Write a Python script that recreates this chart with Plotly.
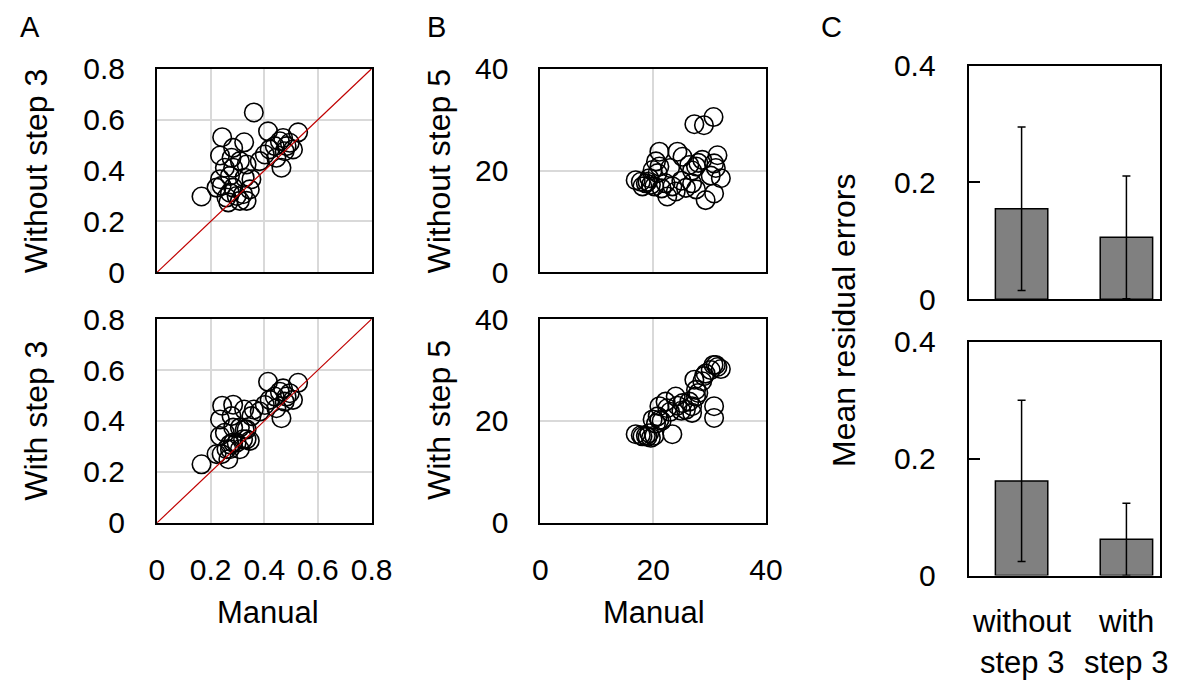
import plotly.graph_objects as go

W, H = 1181, 695

# ---------------- Panel A data (Manual vs automatic, step 3) ----------------
manual_A = [0.414, 0.458, 0.470, 0.495, 0.526, 0.507, 0.476, 0.464, 0.439, 0.420,
            0.445, 0.483, 0.402, 0.383,
            0.361, 0.166, 0.243, 0.325, 0.284, 0.235, 0.278, 0.309, 0.334, 0.253,
            0.235, 0.272, 0.241, 0.284, 0.346, 0.259, 0.297, 0.321, 0.266, 0.309,
            0.222, 0.327, 0.284, 0.352, 0.272, 0.334]
without_step3 = [0.554, 0.515, 0.528, 0.509, 0.550, 0.483, 0.476, 0.411, 0.496, 0.483,
                 0.450, 0.496, 0.463, 0.437,
                 0.628, 0.298, 0.531, 0.511, 0.489, 0.459, 0.450, 0.437, 0.424, 0.411,
                 0.366, 0.379, 0.340, 0.333, 0.326, 0.294, 0.300, 0.307, 0.275, 0.281,
                 0.333, 0.372, 0.411, 0.366, 0.313, 0.281]
with_step3 = [0.554, 0.515, 0.528, 0.509, 0.550, 0.483, 0.476, 0.411, 0.496, 0.483,
              0.450, 0.496, 0.463, 0.437,
              0.445, 0.230, 0.460, 0.445, 0.464, 0.406, 0.419, 0.374, 0.367, 0.354,
              0.341, 0.308, 0.270, 0.315, 0.322, 0.289, 0.315, 0.328, 0.250, 0.289,
              0.270, 0.367, 0.374, 0.419, 0.289, 0.328]
identity_line = [0, 0.8]

# ---------------- Panel B data (Manual vs automatic, step 5) ----------------
manual_B = [16.9, 17.8, 18.1, 18.7, 19.3, 19.6, 20.2, 19.9, 20.8, 21.1,
            21.1, 20.5, 22.2, 22.5, 23.4, 24.0, 24.3, 25.2, 25.8, 26.4,
            26.9, 26.9, 27.6, 27.6, 27.3, 28.7, 29.0, 29.3, 30.7, 30.8,
            30.8, 31.4, 32.0, 31.1, 30.2, 25.0, 23.0, 19.0, 21.5, 28.0]
without_step5 = [18.1, 17.8, 16.9, 17.5, 18.5, 17.2, 16.9, 20.1, 19.5, 20.8,
                 23.7, 21.8, 17.5, 14.9, 16.9, 15.9, 23.7, 22.7, 16.6, 21.1,
                 17.5, 20.0, 20.8, 16.3, 29.1, 22.1, 28.9, 14.2, 30.5, 21.4,
                 15.5, 23.0, 18.5, 20.5, 19.0, 18.0, 20.5, 17.8, 16.5, 21.5]
with_step5 = [17.4, 17.2, 17.0, 17.1, 17.6, 16.7, 17.1, 20.3, 20.9, 20.2,
              22.9, 19.5, 23.8, 22.5, 17.4, 24.8, 23.0, 23.5, 22.2, 23.8,
              22.9, 21.6, 24.8, 26.1, 28.1, 27.8, 28.8, 29.3, 31.0, 22.9,
              20.6, 30.6, 30.2, 31.0, 30.0, 22.0, 21.8, 16.9, 20.0, 25.5]

# ---------------- Panel C data (mean residual errors) ----------------
categories_C = ["without", "with"]
cat_line2 = ["step 3", "step 3"]
mean_err_top = [0.155, 0.106]
sd_err_top = [0.140, 0.105]
mean_err_bottom = [0.162, 0.062]
sd_err_bottom = [0.138, 0.062]

FONT = "Liberation Sans, Arial, sans-serif"
FS = 30      # tick labels
FT = 31      # horizontal titles
FR = 32      # rotated titles

# The photographed page shows the figure slightly shrunk and offset; map the
# wanted picture position (pixels) to figure position (pixels).
SX, OX = 0.977, 7.8
SY, OY = 0.957, 15.0


def lx(t):
    return min(max((t - OX) / SX, 0), W)


def ly(t):
    return min(max((t - OY) / SY, 0), H)


def px(t):
    return lx(t) / W


def py(t):
    return 1 - ly(t) / H


fig = go.Figure()

marker_style = dict(size=18.5, color="rgba(0,0,0,0)", symbol="circle",
                    line=dict(color="black", width=1.6))

# Panel A
fig.add_trace(go.Scatter(x=manual_A, y=without_step3, mode="markers", marker=marker_style,
                         xaxis="x", yaxis="y", showlegend=False, cliponaxis=False))
fig.add_trace(go.Scatter(x=identity_line, y=identity_line, mode="lines",
                         line=dict(color="#c00000", width=1.2), xaxis="x", yaxis="y", showlegend=False))
fig.add_trace(go.Scatter(x=manual_A, y=with_step3, mode="markers", marker=marker_style,
                         xaxis="x2", yaxis="y2", showlegend=False, cliponaxis=False))
fig.add_trace(go.Scatter(x=identity_line, y=identity_line, mode="lines",
                         line=dict(color="#c00000", width=1.2), xaxis="x2", yaxis="y2", showlegend=False))
# Panel B
fig.add_trace(go.Scatter(x=manual_B, y=without_step5, mode="markers", marker=marker_style,
                         xaxis="x3", yaxis="y3", showlegend=False))
fig.add_trace(go.Scatter(x=manual_B, y=with_step5, mode="markers", marker=marker_style,
                         xaxis="x4", yaxis="y4", showlegend=False))
# Panel C
bar_style = dict(color="#808080", line=dict(color="black", width=1.5))
fig.add_trace(go.Bar(x=[0, 1], y=mean_err_top, marker=bar_style, width=0.5,
                     error_y=dict(type="data", array=sd_err_top, color="black", thickness=1.5, width=4),
                     xaxis="x5", yaxis="y5", showlegend=False))
fig.add_trace(go.Bar(x=[0, 1], y=mean_err_bottom, marker=bar_style, width=0.5,
                     error_y=dict(type="data", array=sd_err_bottom, color="black", thickness=1.5, width=4),
                     xaxis="x6", yaxis="y6", showlegend=False))

frame = dict(showline=True, linecolor="black", linewidth=2, mirror=True, zeroline=False)
tickfont = dict(family=FONT, size=FS, color="black")

A_dom_x = [px(157), px(372)]
B_dom_x = [px(541), px(767)]
C_left, C_right = 970, 1180
C_dom_x = [px(C_left), px(C_right)]
# keep the bars centred where the reference has them (1023 and 1128 px)
c_unit = 105.0
c_right_seen = OX + SX * lx(C_right)
C_range = [-(1023 - C_left) / c_unit, (c_right_seen - 1023) / c_unit]
top_dom = [py(272), py(67)]
bot_dom = [py(524), py(319)]

grid_A = dict(range=[0, 0.8], tickvals=[0, 0.2, 0.4, 0.6, 0.8], ticktext=["0", "0.2", "0.4", "0.6", "0.8"],
              showgrid=True, gridcolor="#d9d9d9", gridwidth=2, ticks="", tickfont=tickfont, **frame)
grid_B = dict(range=[0, 40], tickvals=[0, 20, 40], showgrid=True, gridcolor="#d9d9d9", gridwidth=2,
              ticks="", tickfont=tickfont, **frame)
c_y = dict(range=[0, 0.4], tickvals=[0, 0.2, 0.4], ticktext=["0", "0.2", "0.4"], ticks="inside",
           ticklen=11, tickwidth=2, tickcolor="black", showgrid=False, tickfont=tickfont,
           ticklabelstandoff=25, **frame)
c_x = dict(range=C_range, showticklabels=False, ticks="", showgrid=False, **frame)

fig.update_layout(
    width=W, height=H, margin=dict(l=0, r=0, t=0, b=0),
    paper_bgcolor="white", plot_bgcolor="white",
    font=dict(family=FONT, size=FS, color="black"),
    xaxis=dict(domain=A_dom_x, anchor="y", showticklabels=False, **grid_A),
    yaxis=dict(domain=top_dom, anchor="x", ticklabelstandoff=24, **grid_A),
    xaxis2=dict(domain=A_dom_x, anchor="y2", ticklabelstandoff=19, **grid_A),
    yaxis2=dict(domain=bot_dom, anchor="x2", ticklabelstandoff=24, **grid_A),
    xaxis3=dict(domain=B_dom_x, anchor="y3", showticklabels=False, **grid_B),
    yaxis3=dict(domain=top_dom, anchor="x3", ticklabelstandoff=24, **grid_B),
    xaxis4=dict(domain=B_dom_x, anchor="y4", ticklabelstandoff=19, **grid_B),
    yaxis4=dict(domain=bot_dom, anchor="x4", ticklabelstandoff=24, **grid_B),
    xaxis5=dict(domain=C_dom_x, anchor="y5", **c_x),
    yaxis5=dict(domain=[py(299), py(64)], anchor="x5", **c_y),
    xaxis6=dict(domain=C_dom_x, anchor="y6", **c_x),
    yaxis6=dict(domain=[py(577), py(342)], anchor="x6", **c_y),
)

ann = []


def text(x, y, s, angle=0, size=FT):
    ann.append(dict(x=px(x), y=py(y), xref="paper", yref="paper", text=s, showarrow=False,
                    textangle=angle, xanchor="center", yanchor="middle",
                    font=dict(family=FONT, size=size, color="black")))


text(30, 25, "A", size=29)
text(437, 25, "B", size=29)
text(833, 25, "C", size=29)
text(36, 170, "Without step 3", angle=-90, size=FR)
text(36, 421, "With step 3", angle=-90, size=FR)
text(440, 170, "Without step 5", angle=-90, size=FR)
text(440, 421, "With step 5", angle=-90, size=FR)
text(845, 320, "Mean residual errors", angle=-90, size=FR)
text(268, 614, "Manual")
text(655, 614, "Manual")
for i, (cat, l2) in enumerate(zip(categories_C, cat_line2)):
    ann.append(dict(x=i, y=py(623), xref="x6", yref="paper", text=cat, showarrow=False,
                    xanchor="center", yanchor="middle", font=dict(family=FONT, size=FT, color="black")))
    ann.append(dict(x=i, y=1 - 679 / H, xref="x6", yref="paper", text=l2, showarrow=False,
                    xanchor="center", yanchor="middle", font=dict(family=FONT, size=FT, color="black")))
fig.update_layout(annotations=ann)

fig.write_html("out.html")
